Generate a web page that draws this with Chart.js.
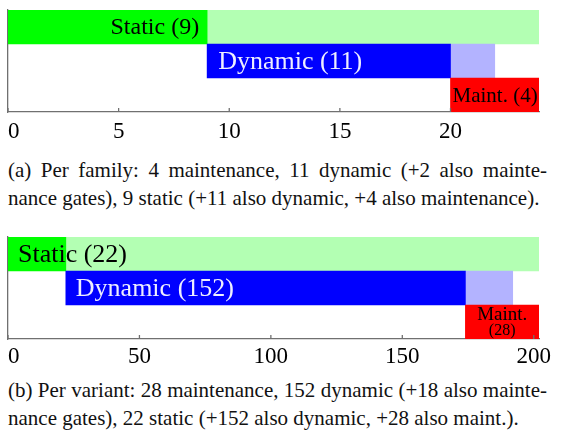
<!DOCTYPE html>
<html>
<head>
<meta charset="utf-8">
<script src="https://cdn.jsdelivr.net/npm/chart.js@4"></script>
<style>
  body { margin: 0; background: #fff; width: 564px; height: 431px; position: relative; overflow: hidden; }
  .box { position: absolute; left: 0; width: 564px; height: 140px; }
  .cap { position: absolute; left: 8px; width: 539px; font-family: 'Liberation Serif', serif; font-size: 21px; line-height: 28px; color: #111; }
  .cap .l1 { text-align: justify; text-align-last: justify; }
</style>
</head>
<body>
<div class="box" style="top:0"><canvas id="famChart"></canvas></div>
<div class="cap" style="top:156px">
  <div class="l1">(a) Per family: 4 maintenance, 11 dynamic (+2 also mainte-</div>
  <div>nance gates), 9 static (+11 also dynamic, +4 also maintenance).</div>
</div>
<div class="box" style="top:227px"><canvas id="varChart"></canvas></div>
<div class="cap" style="top:376px">
  <div class="l1">(b) Per variant: 28 maintenance, 152 dynamic (+18 also mainte-</div>
  <div>nance gates), 22 static (+152 also dynamic, +28 also maint.).</div>
</div>
<script>
// rows, top to bottom
let cats = ["Static", "Dynamic", "Maint."];

// per family
let famCore = [[0, 9], [9, 20], [20, 24]];
let famAlso = [[9, 24], [20, 22], null];
let famText = ["Static (9)", "Dynamic (11)", "Maint. (4)"];
let famTicks = [0, 5, 10, 15, 20];
let famMax = 24;

// per variant
let varCore = [[0, 22], [22, 174], [174, 202]];
let varAlso = [[22, 202], [174, 192], null];
let varText = ["Static (22)", "Dynamic (152)", "Maint.\n(28)"];
let varTicks = [0, 50, 100, 150, 200];
let varMax = 202;

let coreColors = ["#00ff00", "#0000ff", "#ff0000"];
let alsoColors = ["#b3ffb3", "#b3b3ff", "#ffb3b3"];
let axisColor = "#707070";
let serif = "'Liberation Serif', serif";

// bar labels + inside tick marks + tick labels
let barLabels = {
  id: "barLabels",
  afterDatasetsDraw(chart, args, opts) {
    let ctx = chart.ctx;
    let meta = chart.getDatasetMeta(0);
    ctx.save();
    meta.data.forEach((bar, i) => {
      let st = opts.styles[i];
      let lines = opts.texts[i].split("\n");
      ctx.fillStyle = st.color;
      ctx.textBaseline = "middle";
      let left = Math.min(bar.x, bar.base), right = Math.max(bar.x, bar.base);
      lines.forEach((ln, k) => {
        ctx.font = (k == 0 ? st.size : st.size2) + "px " + serif;
        let y = bar.y + (st.dy || 0) + (lines.length > 1 ? (k == 0 ? -7 : 9) : 0);
        if (st.align == "right") {
          ctx.textAlign = "right";
          ctx.fillText(ln, right - st.pad, y);
        } else if (st.align == "center") {
          ctx.textAlign = "center";
          ctx.fillText(ln, (left + right) / 2, y);
        } else {
          ctx.textAlign = "left";
          ctx.fillText(ln, left + st.pad, y);
        }
      });
    });
    ctx.restore();
  },
  afterDraw(chart, args, opts) {
    let ctx = chart.ctx;
    let xs = chart.scales.x;
    let bottom = chart.chartArea.bottom;
    ctx.save();
    ctx.strokeStyle = axisColor;
    ctx.lineWidth = 1.3;
    ctx.fillStyle = "#000";
    ctx.font = "23px " + serif;
    ctx.textBaseline = "alphabetic";
    opts.ticks.forEach((v, i) => {
      let px = xs.getPixelForValue(v);
      ctx.beginPath();
      ctx.moveTo(px, bottom);
      ctx.lineTo(px, bottom - 4);
      ctx.stroke();
      ctx.textAlign = i == 0 ? "left" : "center";
      ctx.fillText(String(v), px, bottom + opts.labelDy);
    });
    ctx.restore();
  }
};

function makeChart(el, core, also, texts, ticks, max, styles, labelDy) {
  return new Chart(el, {
    type: "bar",
    data: {
      labels: cats,
      datasets: [
        { data: core, backgroundColor: coreColors, grouped: false, barPercentage: 1, categoryPercentage: 1, borderWidth: 0 },
        { data: also, backgroundColor: alsoColors, grouped: false, barPercentage: 1, categoryPercentage: 1, borderWidth: 0 }
      ]
    },
    options: {
      indexAxis: "y",
      responsive: false,
      animation: false,
      layout: { padding: { left: 8, top: 10, right: 25, bottom: 28 } },
      plugins: {
        legend: { display: false },
        tooltip: { enabled: false },
        barLabels: { texts: texts, ticks: ticks, styles: styles, labelDy: labelDy }
      },
      scales: {
        x: {
          type: "linear", min: 0, max: max,
          ticks: { display: false },
          grid: { display: false, drawTicks: false },
          border: { display: true, color: axisColor, width: 1.3 },
          afterFit: (s) => { s.height = 0; },
          afterBuildTicks: (s) => { s.ticks = ticks.map((v) => ({ value: v })); }
        },
        y: {
          ticks: { display: false },
          grid: { display: false, drawTicks: false },
          border: { display: true, color: axisColor, width: 1.3 },
          afterFit: (s) => { s.width = 0; }
        }
      }
    },
    plugins: [barLabels]
  });
}

let famEl = document.getElementById("famChart");
famEl.width = 564; famEl.height = 140;
let varEl = document.getElementById("varChart");
varEl.width = 564; varEl.height = 140;

makeChart(famEl, famCore, famAlso, famText, famTicks, famMax, [
  { align: "right", pad: 8, size: 24, color: "#000", dy: 1 },
  { align: "left", pad: 11, size: 26, color: "#eeeeff", dy: 1 },
  { align: "left", pad: 2, size: 21, color: "#000", dy: 1 }
], 26);
makeChart(varEl, varCore, varAlso, varText, varTicks, varMax, [
  { align: "left", pad: 10, size: 26, color: "#000", dy: 1 },
  { align: "left", pad: 10, size: 26, color: "#eeeeff", dy: 1 },
  { align: "center", pad: 0, size: 19, size2: 16, color: "#000", dy: 0 }
], 24);
</script>
</body>
</html>
